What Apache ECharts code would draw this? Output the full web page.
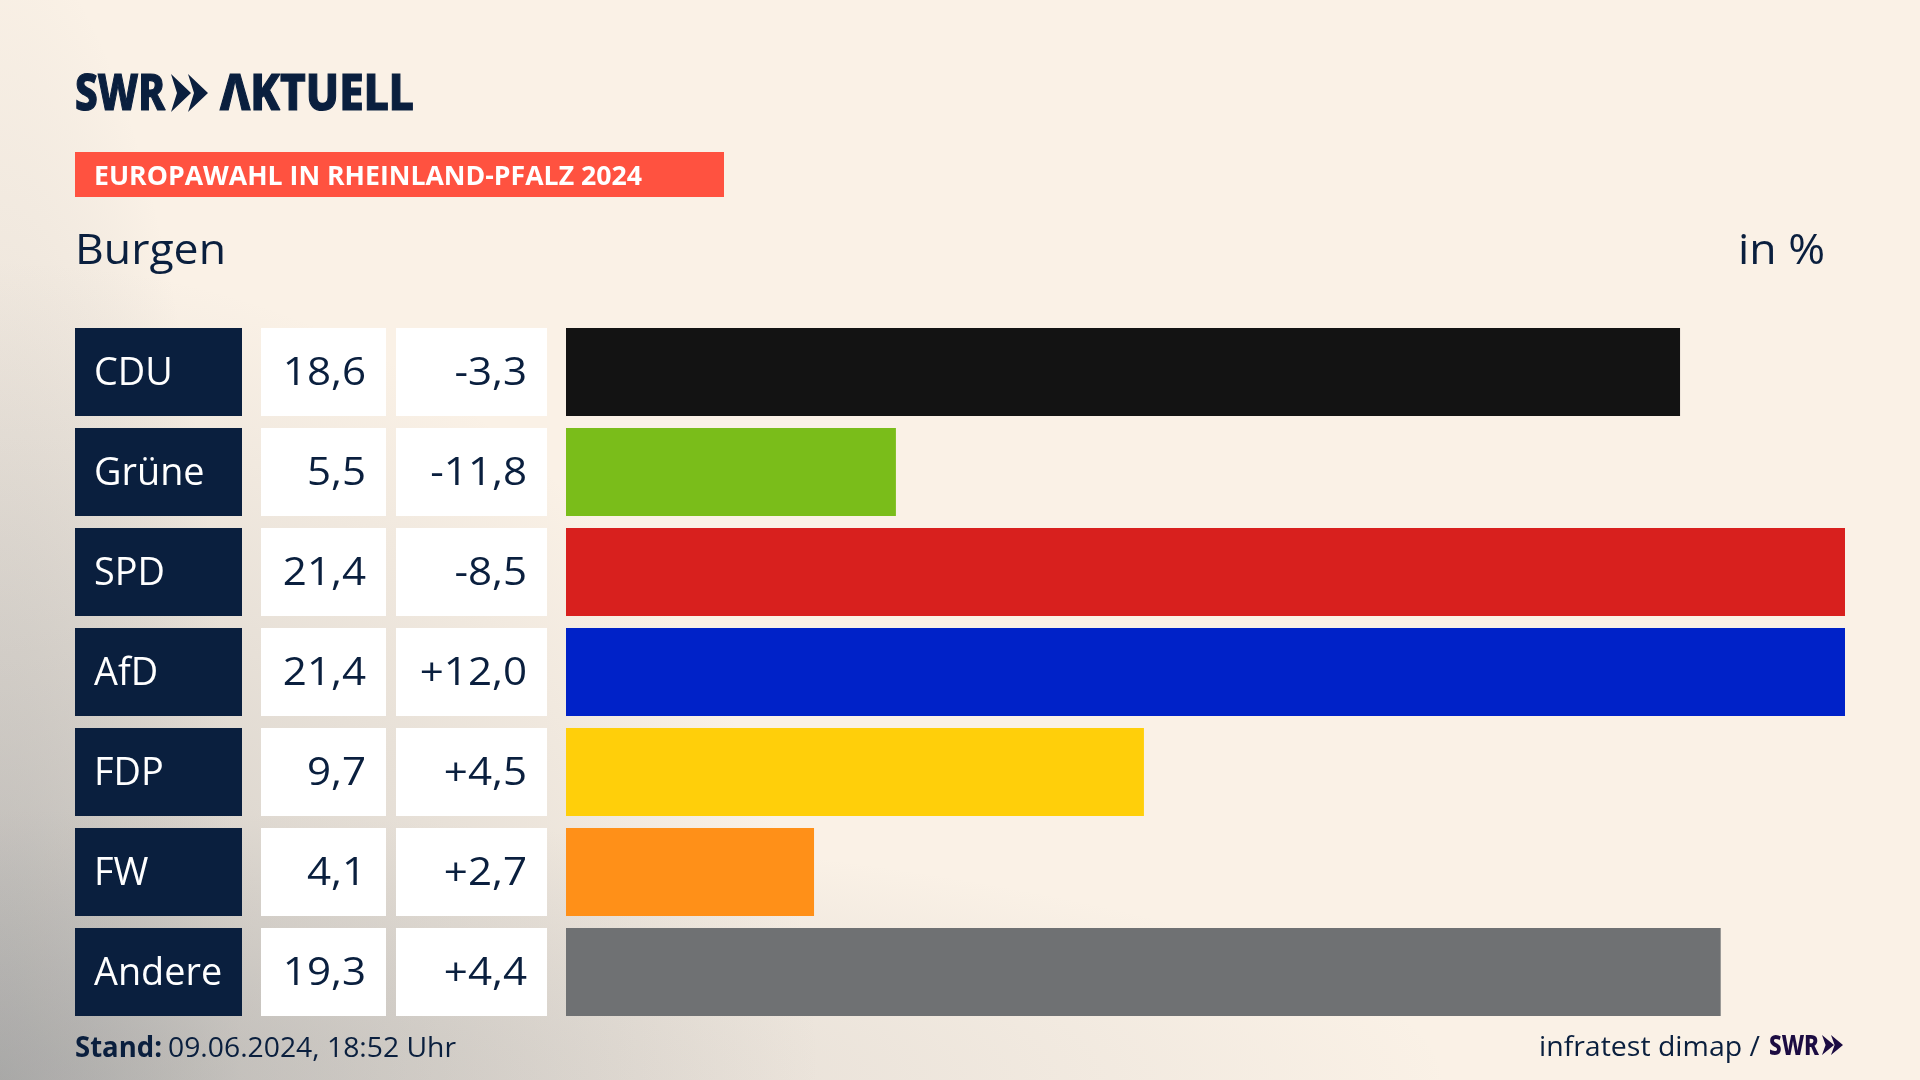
<!DOCTYPE html>
<html>
<head>
<meta charset="utf-8">
<title>Europawahl Burgen</title>
<style>
  html, body { margin: 0; padding: 0; background: #faf1e6; }
  /* grey shade out of the bottom left corner */
  #chart {
    width: 1920px; height: 1080px;
    background:
      radial-gradient(circle 820px at 0 100%, rgba(135,138,140,.42), rgba(135,138,140,0)),
      radial-gradient(1450px 270px at 0 100%, rgba(145,147,150,.32), rgba(145,147,150,0)),
      radial-gradient(240px 1150px at 0 100%, rgba(145,147,150,.32), rgba(145,147,150,0)),
      #faf1e6;
  }
</style>
<script src="https://cdn.jsdelivr.net/npm/echarts@6/dist/echarts.min.js"></script>
</head>
<body>
<div id="chart"></div>
<script>
// data
var parties = ['CDU', 'Grüne', 'SPD', 'AfD', 'FDP', 'FW', 'Andere'];
var shares = [18.6, 5.5, 21.4, 21.4, 9.7, 4.1, 19.3];
var changes = [-3.3, -11.8, -8.5, 12.0, 4.5, 2.7, 4.4];
// bar lengths are a touch finer than the rounded labels
var barShares = [18.64, 5.52, 21.4, 21.4, 9.67, 4.15, 19.32];
var partyColors = ['#131313', '#7abd1a', '#d8201e', '#0022c8', '#ffcf0a', '#ff9018', '#6f7173'];

var navy = '#0a1f3e';
var purple = '#1c0c42';
var bodyFont = '"Open Sans"';

var ctx = document.createElement('canvas').getContext('2d');
// horizontal squeeze so a text fills the width it has in the reference
function fitX(text, font, width) {
  ctx.font = font;
  return width / ctx.measureText(text).width;
}

function fmt(v) { return v.toFixed(1).replace('.', ','); }
function fmtChange(v) { return (v > 0 ? '+' : '') + fmt(v); }

// left table: one navy and two white cells per row, y comes from the category axis
function renderCells(params, api) {
  var row = api.value(1);
  var mid = api.coord([0, row])[1];
  var h = 88;
  var top = mid - h / 2;
  var font = '39px ' + bodyFont;
  function cell(x, w, fill, txt, color, align, sx) {
    return [
      { type: 'rect', shape: { x: x, y: top, width: w, height: h }, style: { fill: fill } },
      { type: 'text', x: align == 'left' ? x + 19 : x + w - 20, y: mid + 2, scaleX: sx,
        style: { text: txt, fill: color, font: font, align: align, verticalAlign: 'middle' } }
    ];
  }
  return {
    type: 'group',
    children: [].concat(
      cell(75, 167, navy, parties[row], '#ffffff', 'left', 0.97),
      cell(261, 125, '#ffffff', fmt(shares[row]), navy, 'right', 1.08),
      cell(396, 151, '#ffffff', fmtChange(changes[row]), navy, 'right', 1.08)
    )
  };
}

function chevrons(x, y, h, w, gap, color) {
  // the two arrows of the SWR logo
  var out = [];
  for (var k = 0; k < 2; k++) {
    var x0 = x + k * gap;
    out.push({
      type: 'polygon',
      shape: { points: [[x0, y], [x0 + w, y + h / 2], [x0, y + h], [x0 + w * 0.3, y + h / 2]] },
      style: { fill: color }
    });
  }
  return out;
}

// text with a fixed width on the page
function label(x, y, text, font, color, width, align, heavy) {
  var style = { text: text, fill: color, font: font, align: align || 'left', verticalAlign: 'middle' };
  if (heavy) {
    style.stroke = color;
    style.lineWidth = heavy;
  }
  return { type: 'text', x: x, y: y, scaleX: fitX(text, font, width), style: style };
}

var logoFont = '800 49px "Noto Sans"';
var smallLogoFont = '800 28px "Noto Sans"';

var chart = echarts.init(document.getElementById('chart'));
var option = {
  animation: false,
  backgroundColor: 'transparent',
  grid: { left: 566, top: 322, width: 1279, height: 700 },
  xAxis: { type: 'value', min: 0, max: 21.4, show: false },
  yAxis: { type: 'category', inverse: true, data: parties, show: false },
  series: [
    {
      type: 'bar',
      barWidth: 88,
      data: barShares,
      itemStyle: { color: function (p) { return partyColors[p.dataIndex]; } }
    },
    {
      type: 'custom',
      renderItem: renderCells,
      data: parties.map(function (p, i) { return [0, i]; }),
      encode: { x: 0, y: 1 }
    }
  ],
  graphic: [
    // logo
    label(75, 96, 'SWR', logoFont, navy, 90, 'left', 1.2),
    { type: 'group', children: chevrons(171, 74, 38, 20, 17, navy) },
    label(220, 96, 'ΛKTUELL', logoFont, navy, 194, 'left', 1.2),
    // red title strip
    { type: 'rect', shape: { x: 75, y: 152, width: 649, height: 45 }, style: { fill: '#ff5240' } },
    label(94, 177, 'EUROPAWAHL IN RHEINLAND-PFALZ 2024', 'bold 27px ' + bodyFont, '#ffffff', 548),
    label(75, 252, 'Burgen', '42px ' + bodyFont, navy, 151),
    label(1825, 252, 'in %', '42px ' + bodyFont, navy, 87, 'right'),
    // footer
    label(75, 1049, 'Stand:', 'bold 28px ' + bodyFont, navy, 87),
    label(168, 1049, '09.06.2024, 18:52 Uhr', '28px ' + bodyFont, navy, 288),
    label(1760, 1048, 'infratest dimap /', '28px ' + bodyFont, navy, 221, 'right'),
    label(1769, 1047, 'SWR', smallLogoFont, purple, 50),
    { type: 'group', children: chevrons(1822, 1035, 20, 12, 9, purple) }
  ]
};
chart.setOption(option);
</script>
</body>
</html>
